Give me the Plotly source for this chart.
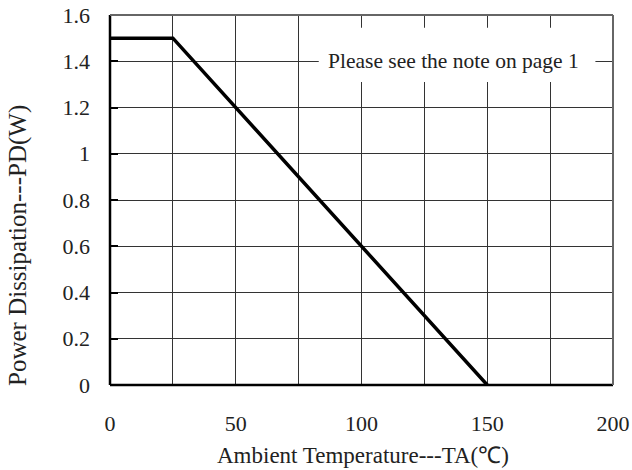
import plotly.graph_objects as go

temp_c = [0, 25, 150]
power_w = [1.5, 1.5, 0]
x_ticks = [0, 50, 100, 150, 200]
y_ticks = [0, 0.2, 0.4, 0.6, 0.8, 1.0, 1.2, 1.4, 1.6]
y_tick_labels = ["0", "0.2", "0.4", "0.6", "0.8", "1", "1.2", "1.4", "1.6"]
x_grid = [25, 75, 125, 175]

FONT = "Liberation Serif"
L, R, T, B = 110, 19, 15, 85
W, H = 632, 470
pw, ph = W - L - R, H - T - B

fig = go.Figure()
fig.add_trace(go.Scatter(x=temp_c, y=power_w, mode="lines",
                         line=dict(color="black", width=3.5), showlegend=False,
                         hoverinfo="skip"))

fig.update_layout(
    template="none",
    width=W, height=H,
    margin=dict(l=L, r=R, t=T, b=B, autoexpand=False),
    paper_bgcolor="white", plot_bgcolor="white",
    font=dict(family=FONT, size=22, color="#222"),
    xaxis=dict(range=[0, 200], tickvals=x_ticks, ticks="inside", ticklen=0,
               showgrid=True, gridcolor="#333", gridwidth=1,
               minor=dict(tickvals=x_grid, showgrid=True, gridcolor="#333", gridwidth=1),
               showline=False, zeroline=False, automargin=False,
               ticklabeloverflow="allow",
               ticklabelstandoff=23, tickfont=dict(family=FONT, size=22)),
    yaxis=dict(range=[0, 1.6], tickvals=y_ticks, ticktext=y_tick_labels,
               ticks="inside", ticklen=8, tickcolor="black", tickwidth=1.5,
               showgrid=True, gridcolor="#333", gridwidth=1,
               showline=False, zeroline=False, automargin=False,
               ticklabeloverflow="allow",
               ticklabelstandoff=19, tickfont=dict(family=FONT, size=22)),
)

fig.add_shape(type="line", xref="paper", yref="paper", x0=0, x1=0, y0=0, y1=1,
              line=dict(color="black", width=2.5), layer="above")
fig.add_shape(type="line", xref="paper", yref="paper", x0=0, x1=1, y0=0, y1=0,
              line=dict(color="black", width=2.5), layer="above")
fig.add_shape(type="line", xref="paper", yref="paper", x0=0, x1=1, y0=1, y1=1,
              line=dict(color="#666", width=2), layer="above")
fig.add_shape(type="line", xref="paper", yref="paper", x0=1, x1=1, y0=0, y1=1,
              line=dict(color="#666", width=2), layer="above")

fig.add_shape(type="rect", xref="x", yref="y", x0=83, x1=193, y0=1.31, y1=1.545,
              fillcolor="white", line=dict(width=0), layer="between")
fig.add_annotation(x=136.5, y=1.4, xref="x", yref="y", text="Please see the note on page 1",
                   showarrow=False, font=dict(family=FONT, size=21.5, color="#222"))

fig.add_annotation(xref="paper", yref="paper", x=(363 - L) / pw, y=(H - B - 455) / ph,
                   text="Ambient Temperature---TA(℃)", showarrow=False,
                   xanchor="center", yanchor="middle", font=dict(family=FONT, size=23, color="#222"))
fig.add_annotation(xref="paper", yref="paper", x=(18 - L) / pw, y=(H - B - 246) / ph,
                   text="Power Dissipation---PD(W)", showarrow=False, textangle=-90,
                   xanchor="center", yanchor="middle", font=dict(family=FONT, size=25, color="#222"))

fig.write_html("out.html")
